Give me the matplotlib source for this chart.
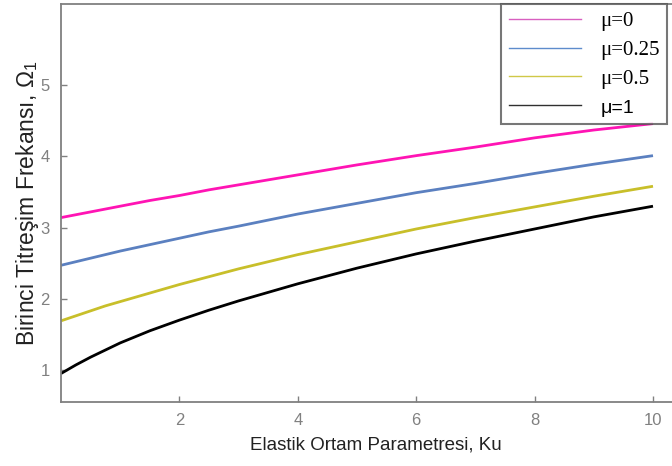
import matplotlib
matplotlib.use('Agg')
import matplotlib.pyplot as plt
from matplotlib.lines import Line2D

# Ku değerleri (yatay eksen) ve her mu için okunan frekanslar
ku = [0, 0.25, 0.5, 0.75, 1, 1.5, 2, 2.5, 3, 4, 5, 6, 7, 8, 9, 10]
omega_mu0 = [3.14, 3.18, 3.22, 3.26, 3.30, 3.38, 3.45, 3.53, 3.60, 3.74, 3.88, 4.01, 4.13, 4.26, 4.37, 4.46]
omega_mu025 = [2.47, 2.52, 2.57, 2.62, 2.67, 2.76, 2.85, 2.94, 3.02, 3.19, 3.34, 3.49, 3.62, 3.76, 3.89, 4.01]
omega_mu05 = [1.69, 1.76, 1.83, 1.90, 1.96, 2.08, 2.20, 2.31, 2.42, 2.62, 2.80, 2.98, 3.14, 3.29, 3.44, 3.58]
omega_mu1 = [0.95, 1.07, 1.18, 1.28, 1.38, 1.55, 1.70, 1.84, 1.97, 2.21, 2.43, 2.63, 2.81, 2.98, 3.15, 3.30]

labels = ['μ=0', 'μ=0.25', 'μ=0.5', 'μ=1']
colors = ['#ff14b4', '#5b80c0', '#c8bf2a', '#000000']
legend_colors = ['#d860c0', '#5e8ccc', '#d0c848', '#303030']

plt.rcParams['mathtext.fontset'] = 'custom'
plt.rcParams['mathtext.rm'] = 'Liberation Sans'
plt.rcParams['mathtext.it'] = 'Liberation Sans'

fig = plt.figure(figsize=(6.72, 4.66), dpi=100)
ax = fig.add_axes([61 / 672, 64 / 466, (690 - 61) / 672, (402 - 4) / 466])

for ys, c in zip([omega_mu0, omega_mu025, omega_mu05, omega_mu1], colors):
    ax.plot(ku, ys, color=c, lw=2.0, solid_capstyle='butt')

ax.set_xlim(0, (690 - 61) / 59.2)
ax.set_ylim(0.55, 6.14)
ax.set_xticks([2, 4, 6, 8, 10])
ax.set_yticks([1, 2, 3, 4, 5])

for s in ax.spines.values():
    s.set_color('#808080')
    s.set_linewidth(1.3)
ax.spines['right'].set_visible(False)
ax.tick_params(direction='in', length=4, width=1, color='#808080',
               labelcolor='#808080', labelsize=12, pad=8)
for t in ax.get_xticklabels() + ax.get_yticklabels():
    t.set_family('Liberation Sans')

ax.set_xlabel('Elastik Ortam Parametresi, Ku', family='Liberation Sans',
              fontsize=13.5, color='#222222', labelpad=6)
ax.set_ylabel(r'Birinci Titreşim Frekansı, $\Omega_1$', family='Liberation Sans',
              fontsize=16.5, color='#222222', labelpad=0)

handles = [Line2D([], [], color=c, lw=1.0) for c in legend_colors]
leg = ax.legend(handles, labels, loc='upper right',
                bbox_to_anchor=(667 / 672, 1 - 4 / 466),
                bbox_transform=fig.transFigure, borderaxespad=0,
                frameon=True, fancybox=False, handlelength=3.5,
                labelspacing=0.45, handletextpad=0.9, borderpad=0.35,
                prop={'family': 'Liberation Serif', 'size': 15})
leg.get_frame().set_edgecolor('#555555')
leg.get_frame().set_linewidth(1.5)
leg.get_texts()[-1].set_family('Liberation Sans')
leg.get_texts()[-1].set_fontsize(14)

fig.savefig('out.png', dpi=100)
